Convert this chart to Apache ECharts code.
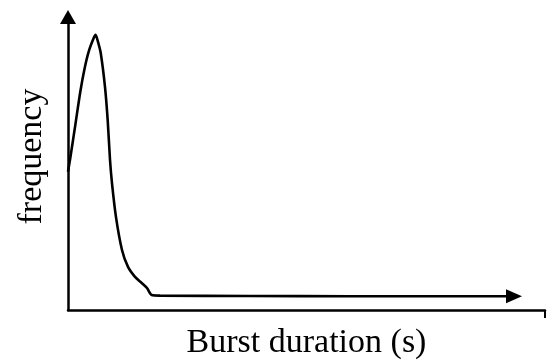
<!DOCTYPE html>
<html><head><meta charset="utf-8">
<script src="https://cdn.jsdelivr.net/npm/echarts@6/dist/echarts.min.js"></script>
<style>html,body{margin:0;padding:0;background:#fff}#c{width:547px;height:360px}</style>
</head><body><div id="c"></div>
<script>
var xValues = [0,0.048,0.153,0.258,0.350,0.434,0.539,0.579,0.629,0.686,0.776,0.832,0.881,0.922,1.006,1.132,1.258,1.405,1.545,1.656,1.755,1.93,3.8,5.9,9.35];
var yValues = [47.2,51.9,63.1,74.5,82.6,88.2,92.8,93.9,91.5,87.7,76.1,64.8,51.2,43.3,31.7,20.5,14.7,11.3,9.2,7.5,5.1,4.9,4.8,4.7,4.7];
var xName = 'Burst duration (s)';
var yName = 'frequency';
var xMax = 10, yMax = 100;

var data = xValues.map(function(x,i){
  var item = {value:[x,yValues[i]]};
  if (i === xValues.length-1) { item.symbol='triangle'; item.symbolSize=[14,16]; item.symbolRotate=-90; }
  return item;
});
var font = "'Liberation Serif','Times New Roman',serif";
var chart = echarts.init(document.getElementById('c'));
chart.setOption({
  animation:false,
  backgroundColor:'#fff',
  grid:{left:68,right:2,top:17,bottom:50,containLabel:false,outerBoundsMode:'none'},
  xAxis:{type:'value',min:0,max:xMax,name:xName,nameLocation:'middle',nameGap:16,
    nameTextStyle:{fontFamily:font,fontSize:34,color:'#000'},
    axisLine:{show:true,lineStyle:{color:'#000',width:2.5}},
    axisTick:{show:true,customValues:[xMax],length:8,lineStyle:{color:'#000',width:2}},
    axisLabel:{show:false},splitLine:{show:false}},
  yAxis:{type:'value',min:0,max:yMax,name:yName,nameLocation:'middle',nameGap:19,nameRotate:90,
    nameTextStyle:{fontFamily:font,fontSize:34,color:'#000',padding:[0,0,0,14]},
    axisLine:{show:true,symbol:['none','triangle'],symbolSize:[16,14],lineStyle:{color:'#000',width:2.5}},
    axisTick:{show:false},axisLabel:{show:false},splitLine:{show:false}},
  series:[{type:'line',data:data,smooth:0.25,symbol:'none',showSymbol:true,
    lineStyle:{color:'#000',width:2.6},itemStyle:{color:'#000'}}]
});
</script></body></html>
